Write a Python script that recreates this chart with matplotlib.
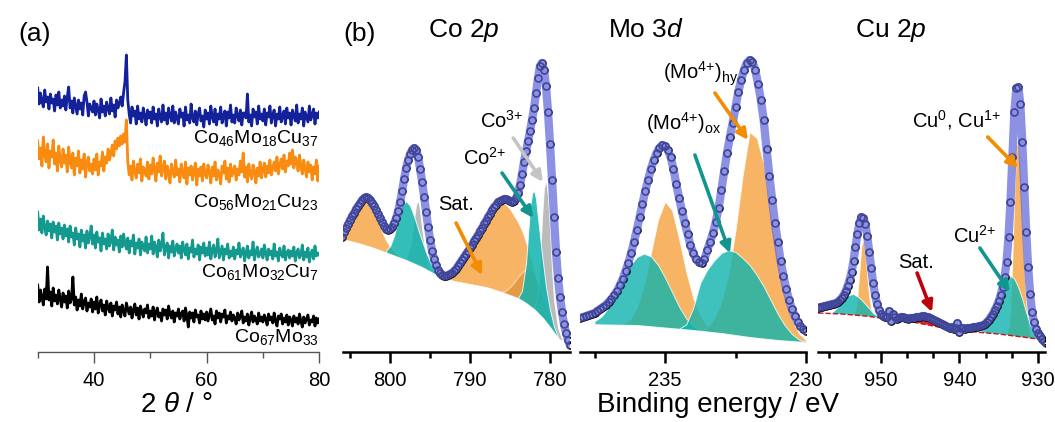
import numpy as np
import matplotlib.pyplot as plt

plt.rcParams['font.family'] = ['Liberation Sans', 'DejaVu Sans']
plt.rcParams['mathtext.fontset'] = 'custom'
plt.rcParams['mathtext.rm'] = 'Liberation Sans'
plt.rcParams['mathtext.it'] = 'Liberation Sans:italic'
plt.rcParams['mathtext.bf'] = 'Liberation Sans:bold'

W, H = 1055, 422

# ---------------- (a) XRD, 2theta 30..80 step 0.25 (arbitrary offset units)
xrd_blue = [264, 248, 259, 251, 245, 262, 250, 255, 243, 258, 249, 253, 241, 257, 247, 260, 244, 252, 246, 256,
            242, 255, 265, 244, 251, 239, 254, 246, 238, 252, 243, 249, 237, 256, 260, 250, 236, 248, 244, 240,
            251, 237, 248, 242, 234, 253, 240, 246, 236, 250, 243, 238, 254, 241, 247, 235, 252, 244, 249, 255,
            246, 259, 270, 297, 252, 238, 229, 245, 236, 241, 228, 246, 233, 239, 230, 244, 236, 227, 242, 234,
            240, 229, 245, 233, 238, 226, 243, 235, 230, 247, 232, 239, 228, 244, 236, 231, 246, 229, 240, 234,
            228, 243, 235, 239, 226, 245, 232, 237, 229, 248, 234, 230, 241, 227, 238, 244, 231, 236, 225, 242,
            233, 239, 228, 246, 235, 230, 243, 227, 238, 233, 245, 229, 236, 241, 226, 240, 234, 247, 230, 237,
            229, 244, 236, 231, 242, 227, 239, 239, 234, 258, 230, 237, 226, 243, 235, 240, 228, 246, 233, 238,
            231, 243, 227, 239, 235, 246, 229, 237, 242, 226, 238, 233, 245, 230, 236, 241, 228, 244, 234, 239,
            227, 242, 236, 231, 247, 229, 238, 233, 244, 226, 240, 235, 230, 246, 232, 237, 243, 228, 239, 234,
            240]
xrd_orange = [211, 193, 204, 186, 215, 198, 190, 208, 184, 201, 195, 212, 188, 199, 181, 206, 192, 185, 203, 189,
              197, 180, 205, 190, 184, 199, 177, 194, 186, 201, 179, 192, 183, 198, 175, 190, 195, 181, 188, 178,
              193, 182, 198, 177, 190, 186, 200, 181, 195, 189, 203, 192, 198, 207, 196, 211, 203, 214, 206, 216,
              208, 218, 210, 232, 190, 177, 186, 172, 191, 180, 174, 188, 179, 193, 171, 185, 182, 176, 190, 173,
              187, 178, 194, 182, 171, 189, 180, 196, 176, 184, 191, 173, 186, 179, 169, 188, 181, 175, 192, 177,
              183, 170, 188, 179, 174, 190, 168, 184, 177, 186, 172, 181, 189, 167, 183, 176, 185, 171, 188, 178,
              174, 187, 180, 169, 185, 176, 190, 172, 182, 178, 168, 186, 179, 191, 173, 184, 170, 188, 176, 181,
              186, 172, 183, 177, 191, 180, 199, 175, 185, 170, 188, 178, 173, 187, 181, 169, 184, 176, 190, 174,
              182, 189, 175, 186, 179, 192, 177, 184, 190, 181, 195, 178, 187, 193, 183, 197, 180, 191, 186, 199,
              188, 202, 184, 195, 190, 181, 197, 186, 178, 192, 183, 175, 190, 180, 187, 172, 185, 178, 192, 171,
              186]
xrd_teal = [140, 122, 133, 119, 136, 125, 117, 131, 121, 128, 114, 130, 120, 126, 112, 129, 118, 124, 113, 127,
            116, 123, 110, 126, 115, 119, 107, 124, 113, 118, 105, 122, 111, 117, 104, 121, 109, 115, 126, 108,
            117, 104, 120, 110, 114, 101, 119, 108, 113, 103, 118, 106, 111, 122, 102, 115, 107, 112, 100, 116,
            105, 118, 109, 103, 114, 99, 111, 106, 117, 98, 109, 104, 113, 97, 110, 105, 101, 115, 99, 108,
            103, 116, 98, 110, 105, 95, 112, 101, 107, 119, 97, 104, 109, 94, 106, 100, 111, 96, 103, 108,
            99, 106, 94, 110, 102, 97, 108, 93, 104, 100, 112, 95, 103, 98, 107, 92, 105, 99, 109, 96,
            104, 97, 110, 93, 102, 107, 95, 101, 113, 94, 100, 106, 92, 103, 98, 108, 94, 101, 96, 105,
            93, 102, 98, 109, 95, 100, 104, 91, 99, 106, 94, 101, 97, 110, 92, 100, 105, 95, 98, 103,
            94, 107, 99, 92, 103, 97, 101, 93, 108, 96, 100, 91, 104, 98, 95, 106, 92, 99, 102, 94,
            101, 96, 105, 91, 99, 103, 94, 97, 107, 92, 100, 95, 104, 90, 98, 102, 93, 106, 96, 99,
            97]
xrd_black = [67, 50, 62, 55, 47, 63, 53, 85, 52, 60, 46, 64, 51, 57, 48, 62, 53, 45, 59, 50,
             56, 44, 61, 49, 53, 75, 47, 55, 42, 52, 46, 58, 43, 50, 54, 41, 49, 45, 53, 40,
             50, 43, 55, 39, 48, 52, 41, 47, 37, 51, 44, 40, 49, 36, 46, 42, 50, 38, 45, 35,
             47, 41, 36, 49, 43, 38, 45, 34, 42, 48, 37, 44, 33, 46, 40, 35, 43, 39, 47, 34,
             41, 36, 45, 32, 40, 44, 35, 39, 31, 43, 37, 42, 33, 46, 38, 34, 41, 30, 39, 36,
             43, 33, 38, 41, 31, 44, 36, 25, 40, 34, 39, 30, 42, 35, 37, 29, 41, 33, 38, 32,
             40, 31, 37, 43, 32, 36, 28, 41, 34, 39, 30, 38, 35, 42, 29, 36, 33, 40, 31, 37,
             34, 28, 39, 32, 36, 41, 29, 35, 31, 38, 27, 34, 40, 30, 36, 33, 28, 39, 31, 35,
             30, 37, 33, 27, 38, 32, 35, 29, 39, 31, 26, 36, 33, 38, 28, 34, 30, 37, 27, 35,
             32, 26, 36, 30, 34, 28, 38, 31, 25, 35, 29, 33, 37, 27, 32, 30, 36, 26, 34, 29,
             33]
xrd_names = [r'Co$_{46}$Mo$_{18}$Cu$_{37}$', r'Co$_{56}$Mo$_{21}$Cu$_{23}$',
             r'Co$_{61}$Mo$_{32}$Cu$_{7}$', r'Co$_{67}$Mo$_{33}$']
xrd_colors = ['#13219a', '#f98b10', '#14998f', '#000000']

# ---------------- Co 2p, 806..777.5 step 0.25
co_e = np.linspace(806, 777.5, 115)
co_int = [115, 120, 124, 128, 132, 136, 139, 143,
          146, 149, 152, 154, 155, 154, 152, 149,
          146, 142, 138, 134, 130, 126, 123, 122,
          123, 125, 129, 134, 141, 150, 161, 173,
          184, 192, 198, 202, 204, 202, 195, 183,
          170, 155, 140, 125, 112, 101, 93, 87,
          82, 79, 77, 76, 76, 77, 78, 79,
          81, 83, 86, 89, 92, 95, 98, 101,
          104, 107, 111, 114, 117, 121, 124, 128,
          131, 135, 138, 142, 145, 147, 150, 151,
          152, 153, 153, 152, 151, 150, 151, 154,
          159, 167, 178, 190, 201, 211, 221, 232,
          244, 259, 274, 286, 289, 282, 266, 240,
          208, 172, 135, 100, 74, 55, 40, 28,
          19, 12, 7]
co_bg_e = [806, 804, 802, 800, 798, 796, 794, 792, 790, 788, 786, 784, 783, 782, 781, 780, 779, 778, 777.5]
co_bg = [113, 109, 104, 98, 92, 85, 76, 71, 68, 65, 60, 54, 49, 43, 35, 25, 14, 8, 6]
# components: (energies, height above background)
co_sat_a_e = [806, 805.5, 805, 804.5, 804, 803.5, 803, 802.5, 802, 801.5, 801, 800.5, 800, 799.5, 799, 798.5]
co_sat_a = [4, 8, 15, 25, 35, 43, 47, 45, 38, 28, 19, 12, 7, 4, 2, 0]
co_2a_e = [800.5, 800, 799.5, 799, 798.5, 798, 797.5, 797, 796.5, 796, 795.5, 795, 794.5, 794]
co_2a = [2, 8, 20, 38, 53, 59, 56, 47, 36, 26, 17, 10, 4, 1]
co_3a_e = [798, 797.5, 797, 796.75, 796.5, 796.25, 796, 795.5, 795]
co_3a = [2, 14, 45, 60, 65, 55, 38, 12, 2]
co_sat_b_e = [793, 792, 791, 790, 789, 788, 787, 786.5, 786, 785.5, 785, 784.5, 784, 783.5,
              783, 782.5, 782, 781.5, 781, 780.5, 780, 779.5, 779]
co_sat_b = [0, 5, 16, 33, 48, 62, 77, 84, 89, 89, 86, 81, 76, 70,
            61, 50, 39, 29, 21, 14, 8, 3, 0]
co_sat_c_e = [786, 785.5, 785, 784.5, 784, 783.5, 783, 782.5, 782, 781.5, 781, 780.5, 780, 779.5, 779]
co_sat_c = [0, 3, 8, 14, 21, 28, 34, 37, 37, 29, 21, 14, 8, 3, 0]
co_2b_e = [784, 783.5, 783, 782.75, 782.5, 782.25, 782, 781.75, 781.5, 781, 780.5, 780, 779.5, 779]
co_2b = [0, 10, 40, 70, 98, 114, 119, 112, 95, 62, 35, 17, 6, 1]
co_3b_e = [782, 781.5, 781.25, 781, 780.75, 780.5, 780.25, 780, 779.75, 779.5, 779, 778.5]
co_3b = [0, 20, 55, 100, 132, 142, 128, 95, 60, 32, 10, 2]

# ---------------- Mo 3d, 238..230 step 0.1
mo_e = np.linspace(238, 230, 81)
mo_int = [34, 35, 36, 37, 38, 39, 41, 43, 45, 47,
          50, 53, 57, 61, 67, 73, 81, 89, 99, 110,
          122, 135, 148, 161, 172, 183, 192, 199, 204, 207,
          206, 202, 195, 183, 168, 154, 141, 129, 118, 107,
          99, 93, 90, 89, 93, 102, 110, 119, 130, 144,
          162, 181, 199, 215, 229, 245, 260, 272, 282, 289,
          292, 290, 282, 268, 252, 232, 203, 176, 152, 129,
          110, 91, 76, 63, 52, 43, 36, 30, 26, 23,
          21]
mo_bg_e = [238, 236, 234, 233, 232, 231, 230]
mo_bg = [28, 27, 22, 19, 15, 12, 10]
mo_ox1_e = [237.5, 237.25, 237, 236.75, 236.5, 236.25, 236, 235.75, 235.5, 235.25, 235, 234.75, 234.5, 234.25, 234, 233.75]
mo_ox1 = [3, 8, 17, 30, 45, 59, 68, 72, 70, 62, 50, 36, 22, 11, 4, 1]
mo_hy1_e = [236.5, 236.25, 236, 235.75, 235.5, 235.25, 235, 234.75, 234.5, 234.25, 234, 233.75, 233.5, 233.25, 233]
mo_hy1 = [1, 5, 17, 40, 73, 107, 126, 118, 90, 58, 32, 15, 6, 2, 0]
mo_ox2_e = [234.5, 234.25, 234, 233.75, 233.5, 233.25, 233, 232.75, 232.5, 232.25, 232, 231.75,
            231.5, 231.25, 231, 230.75, 230.5, 230.25, 230]
mo_ox2 = [0, 5, 22, 48, 62, 72, 80, 84, 83, 78, 72, 63, 52, 39, 26, 15, 7, 2, 0]
mo_hy2_e = [233.75, 233.5, 233.25, 233, 232.75, 232.5, 232.25, 232, 231.75, 231.5, 231.25, 231,
            230.75, 230.5, 230.25, 230]
mo_hy2 = [0, 4, 14, 31, 60, 105, 160, 205, 200, 175, 125, 80, 45, 22, 8, 2]

# ---------------- Cu 2p, 958..929 step 0.25
cu_e = np.linspace(958, 929, 117)
cu_int = [44, 45, 45, 46, 46, 47, 47, 48,
          48, 49, 50, 52, 54, 57, 61, 66,
          72, 80, 91, 105, 118, 129, 135, 134,
          128, 116, 100, 84, 69, 57, 48, 42,
          38, 36, 35, 35, 41, 31, 38, 35,
          33, 34, 35, 35, 34, 34, 33, 34,
          34, 34, 35, 35, 35, 36, 36, 35,
          35, 34, 33, 32, 31, 30, 29, 28,
          27, 26, 25, 24, 25, 23, 24, 29,
          20, 24, 24, 23, 24, 24, 24, 25,
          25, 25, 26, 26, 27, 28, 30, 32,
          35, 38, 42, 46, 51, 57, 65, 75,
          90, 115, 150, 195, 240, 264, 265, 248,
          210, 165, 120, 85, 58, 40, 30, 23,
          19, 16, 13, 11, 9]
cu_bg_e = [958, 955, 952, 950, 946, 942, 940, 938, 935, 932, 930, 929]
cu_bg = [39, 38, 36, 34, 30, 24, 22, 20, 18, 15, 13, 12]
cu_2a_e = [956.5, 956, 955.5, 955, 954.5, 954, 953.5, 953, 952.5, 952, 951.5, 951, 950.5, 950]
cu_2a = [0, 3, 7, 12, 17, 20, 21, 19, 16, 12, 8, 4, 2, 0]
cu_1a_e = [953.5, 953.25, 953, 952.75, 952.5, 952.25, 952, 951.75, 951.5, 951.25, 951, 950.75]
cu_1a = [0, 6, 20, 45, 70, 76, 62, 40, 20, 8, 2, 0]
cu_sat_e = [949, 948, 947, 946, 945, 944, 943, 942, 941, 940.5]
cu_sat = [0, 2, 4, 5, 5, 6, 5, 3, 1, 0]
cu_2b_e = [937.5, 937, 936.5, 936, 935.5, 935, 934.5, 934, 933.5, 933, 932.5, 932, 931.5, 931, 930.5, 930]
cu_2b = [0, 3, 7, 13, 21, 31, 42, 53, 60, 57, 49, 38, 25, 13, 5, 1]
cu_1b_e = [934, 933.75, 933.5, 933.25, 933, 932.75, 932.5, 932.25, 932, 931.75, 931.5, 931.25, 931, 930.75]
cu_1b = [0, 8, 30, 80, 145, 190, 198, 170, 118, 70, 35, 14, 4, 0]

ORANGE = '#f7a23e'
TEAL = '#0fb3ad'
GRAY = '#aaaaaa'
RED = '#d0101a'
BAND = '#5b63d8'


def add_comp(ax, e, net, bg_e, bg_v, color, alpha=0.8):
    e = np.asarray(e, dtype=float)
    base = np.interp(e, np.asarray(bg_e)[::-1], np.asarray(bg_v)[::-1])
    ax.fill_between(e, base, base + np.asarray(net), facecolor=color, alpha=alpha,
                    edgecolor='white', lw=0.7, zorder=2)


def style_xps(ax, xlim, major, minor):
    ax.set_xlim(*xlim)
    ax.set_ylim(0, 332)
    for s in ['left', 'right', 'top']:
        ax.spines[s].set_visible(False)
    ax.spines['bottom'].set_linewidth(1.8)
    ax.set_yticks([])
    ax.set_xticks(major)
    ax.set_xticks(minor, minor=True)
    ax.tick_params(axis='x', which='major', length=8, width=1.8, labelsize=14.5, pad=6)
    ax.tick_params(axis='x', which='minor', length=4.5, width=1.8)
    ax.patch.set_alpha(0)


def draw_spectrum(ax, e, inten):
    ax.plot(e, inten, 'o', ms=5, mfc='none', mec='black', mew=1.2, zorder=3)
    ax.plot(e, inten, '-', color=BAND, alpha=0.7, lw=6, solid_capstyle='round', zorder=4)


def arrow(ax, tail, tip, color):
    ax.annotate('', xy=tip, xytext=tail,
                arrowprops=dict(arrowstyle='-|>', color=color, lw=2.6,
                                mutation_scale=16, shrinkA=0, shrinkB=0), zorder=6)


fig = plt.figure(figsize=(W / 100, H / 100), dpi=100)

def axes_px(left, width):
    return fig.add_axes([left / W, 70 / H, width / W, 332 / H])

# ---- panel (a)
ax = axes_px(37.7, 281.5)
for vals, c in zip([xrd_blue, xrd_orange, xrd_teal, xrd_black], xrd_colors):
    ax.plot(np.linspace(30, 80, len(vals)), vals, color=c, lw=2.0)
ax.set_xlim(30, 80)
ax.set_ylim(0, 332)
for s in ['left', 'right', 'top']:
    ax.spines[s].set_visible(False)
ax.spines['bottom'].set_color('#555555')
ax.spines['bottom'].set_linewidth(1.0)
ax.set_yticks([])
ax.set_xticks([40, 60, 80])
ax.set_xticks([30, 50, 70], minor=True)
ax.tick_params(axis='x', which='major', length=8, width=1.0, color='#555555', labelsize=14.5, pad=6)
ax.tick_params(axis='x', which='minor', length=4.5, width=1.0, color='#555555')
for name, yv in zip(xrd_names, [209, 145, 75, 10]):
    ax.text(79.9, yv, name, ha='right', va='baseline', fontsize=14)

# ---- Co 2p
ax = axes_px(343, 227)
style_xps(ax, (805.9, 777.5), [800, 790, 780], [805, 795, 785])
add_comp(ax, co_sat_a_e, co_sat_a, co_bg_e, co_bg, ORANGE)
add_comp(ax, co_sat_b_e, co_sat_b, co_bg_e, co_bg, ORANGE)
add_comp(ax, co_sat_c_e, co_sat_c, co_bg_e, co_bg, '#d88a30', 0.6)
add_comp(ax, co_3a_e, co_3a, co_bg_e, co_bg, GRAY)
add_comp(ax, co_3b_e, co_3b, co_bg_e, co_bg, GRAY)
add_comp(ax, co_2a_e, co_2a, co_bg_e, co_bg, TEAL, 0.85)
add_comp(ax, co_2b_e, co_2b, co_bg_e, co_bg, TEAL, 0.85)
draw_spectrum(ax, co_e, co_int)
ax.text(788.75, 224, r'Co$^{\text{3+}}$', fontsize=14.5, ha='left', va='baseline')
ax.text(790.9, 187, r'Co$^{\text{2+}}$', fontsize=14.5, ha='left', va='baseline')
ax.text(794.0, 142, 'Sat.', fontsize=14.5, ha='left', va='baseline')
arrow(ax, (784.6, 214), (780.9, 170), '#c4c4c4')
arrow(ax, (786.0, 179), (782.1, 134), '#12958f')
arrow(ax, (791.75, 129), (788.5, 77), '#f28c00')

# ---- Mo 3d
ax = axes_px(580.4, 225.6)
style_xps(ax, (238, 230), [235, 230], [237.5, 232.5])
add_comp(ax, mo_hy1_e, mo_hy1, mo_bg_e, mo_bg, ORANGE)
add_comp(ax, mo_hy2_e, mo_hy2, mo_bg_e, mo_bg, ORANGE)
add_comp(ax, mo_ox1_e, mo_ox1, mo_bg_e, mo_bg, TEAL, 0.8)
add_comp(ax, mo_ox2_e, mo_ox2, mo_bg_e, mo_bg, TEAL, 0.8)
draw_spectrum(ax, mo_e, mo_int)
ax.text(235.07, 272, r'(Mo$^{\text{4+}}$)$_{\text{hy}}$', fontsize=14.5, ha='left', va='baseline')
ax.text(235.67, 222, r'(Mo$^{\text{4+}}$)$_{\text{ox}}$', fontsize=14.5, ha='left', va='baseline')
arrow(ax, (233.23, 259), (232.06, 212), '#f28c00')
arrow(ax, (233.94, 197), (232.7, 99), '#12958f')

# ---- Cu 2p
ax = axes_px(818.2, 226.8)
cu_minor = [930 + k * 10 / 3 for k in range(1, 9) if k % 3]
style_xps(ax, (958, 929.1), [950, 940, 930], cu_minor)
add_comp(ax, cu_sat_e, cu_sat, cu_bg_e, cu_bg, RED, 0.9)
add_comp(ax, cu_1a_e, cu_1a, cu_bg_e, cu_bg, ORANGE)
add_comp(ax, cu_1b_e, cu_1b, cu_bg_e, cu_bg, ORANGE)
add_comp(ax, cu_2a_e, cu_2a, cu_bg_e, cu_bg, TEAL, 0.8)
add_comp(ax, cu_2b_e, cu_2b, cu_bg_e, cu_bg, TEAL, 0.8)
ax.plot(cu_bg_e, cu_bg, '--', color=RED, lw=1.0, zorder=2)
draw_spectrum(ax, cu_e, cu_int)
ax.text(946.05, 225, r'Cu$^{\text{0}}$, Cu$^{\text{1+}}$', fontsize=14.5, ha='left', va='baseline')
ax.text(940.8, 109, r'Cu$^{\text{2+}}$', fontsize=14.5, ha='left', va='baseline')
ax.text(947.8, 84, 'Sat.', fontsize=14.5, ha='left', va='baseline')
arrow(ax, (936.4, 215), (932.55, 184), '#f28c00')
arrow(ax, (937.4, 104), (933.6, 60), '#12958f')
arrow(ax, (945.4, 79), (943.5, 40), '#c0000a')

# ---- panel labels, titles, axis titles
fig.text(18 / W, 1 - 41 / H, '(a)', fontsize=19, va='baseline')
fig.text(343 / W, 1 - 41 / H, '(b)', fontsize=19, va='baseline')
fig.text(428 / W, 1 - 37 / H, r'Co 2$p$', fontsize=19, va='baseline')
fig.text(608 / W, 1 - 37 / H, r'Mo 3$d$', fontsize=19, va='baseline')
fig.text(855 / W, 1 - 37 / H, r'Cu 2$p$', fontsize=19, va='baseline')
fig.text(176 / W, 1 - 412 / H, r'2 $\theta$ / °', fontsize=20, ha='center', va='baseline')
fig.text(718 / W, 1 - 412 / H, 'Binding energy / eV', fontsize=20, ha='center', va='baseline')

fig.savefig('out.png', dpi=100, facecolor='white')
